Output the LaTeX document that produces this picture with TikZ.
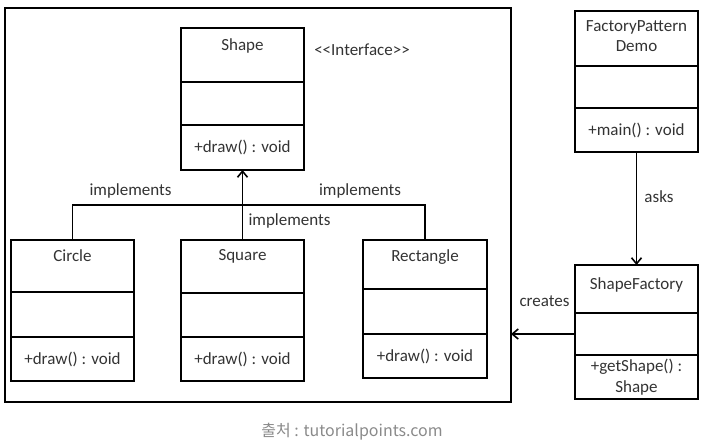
\documentclass[tikz,border=0pt]{standalone}
\usepackage{fontspec}
\setmainfont{Carlito}
\newfontfamily\krfont{Noto Sans CJK KR}
\usetikzlibrary{positioning, arrows.meta}
\definecolor{inkgray}{HTML}{333333}
\definecolor{notegray}{HTML}{8A8A8A}

\begin{document}
\begin{tikzpicture}[x=1pt, y=-1pt, line width=1.6pt, font=\fontsize{17}{20.5}\selectfont,
    part/.style = {draw, minimum width=123pt, inner sep=2pt, outer sep=0pt, align=center, text=inkgray},
    title/.style = {anchor=north, inner sep=0pt, yshift=-#1, align=center, text=inkgray},
    title/.default = 9.8pt,
    note/.style = {inner sep=0pt, text=inkgray},
    link/.style = {-{Straight Barb[length=6pt, width=10pt]}}]
    \useasboundingbox (0,0) rectangle (705,442);
    % group of shapes
    \node[draw, minimum width=506pt, minimum height=394pt, outer sep=0pt] (frame) at (258,205) {};
    % Shape
    \node[part, anchor=north, minimum height=54pt, label={[title]north:Shape}] (shape) at (242.5,28) {};
    \node[part, minimum height=43pt, below=0pt of shape] (shape attr) {};
    \node[part, minimum height=45pt, below=0pt of shape attr] (shape op) {+draw() : void};
    \node[note] (stereo) at (362,50) {<{}<Interface>{}>};
    % Circle
    \node[part, anchor=north, minimum height=52pt, label={[title=8.8pt]north:Circle}] (circle) at (72.5,240) {};
    \node[part, minimum height=45pt, below=0pt of circle] (circle attr) {};
    \node[part, minimum height=44pt, below=0pt of circle attr] (circle op) {+draw() : void};
    % Square
    \node[part, anchor=north, minimum height=53pt, label={[title=8.8pt]north:Square}] (square) at (242.5,240) {};
    \node[part, minimum height=44pt, below=0pt of square] (square attr) {};
    \node[part, minimum height=44pt, below=0pt of square attr] (square op) {+draw() : void};
    % Rectangle
    \node[part, anchor=north, minimum width=124pt, minimum height=49pt, label={[title=8.8pt]north:Rectangle}] (rect) at (425,240) {};
    \node[part, minimum width=124pt, minimum height=45pt, below=0pt of rect] (rect attr) {};
    \node[part, minimum width=124pt, minimum height=44pt, below=0pt of rect attr] (rect op) {+draw() : void};
    % FactoryPatternDemo
    \node[part, anchor=north, minimum height=55pt, label={[title=8.6pt]north:FactoryPattern\\Demo}] (demo) at (636.5,11) {};
    \node[part, minimum height=42pt, below=0pt of demo] (demo attr) {};
    \node[part, minimum height=44pt, below=0pt of demo attr] (demo op) {+main() : void};
    % ShapeFactory
    \node[part, anchor=north, minimum height=48pt, label={[title=12pt]north:ShapeFactory}] (factory) at (636.5,265) {};
    \node[part, minimum height=42pt, below=0pt of factory] (factory attr) {};
    \node[part, minimum height=44pt, below=0pt of factory attr] (factory op) {+getShape() :\\Shape};
    % implements
    \coordinate (bus) at (0,205);
    \draw[link] (square.north) -- (shape op.south);
    \draw (circle.north) |- (bus -| rect.north) -- (rect.north);
    \node[note] (impl left) at (130.5,191) {implements};
    \node[note] (impl right) at (360,191) {implements};
    \node[note] (impl mid) at (289.5,221) {implements};
    % asks and creates
    \draw[link] (demo op.south) -- (factory.north);
    \node[note] (asks) at (659,197) {asks};
    \draw[link] (factory attr.west) -- (factory attr.west -| frame.east);
    \node[note] (creates) at (544.5,301) {creates};
    % source
    \node[inner sep=0pt, text=notegray, font=\krfont\fontsize{16}{18}\selectfont] (source) at (352,432) {출처 : tutorialpoints.com};
\end{tikzpicture}
\end{document}
